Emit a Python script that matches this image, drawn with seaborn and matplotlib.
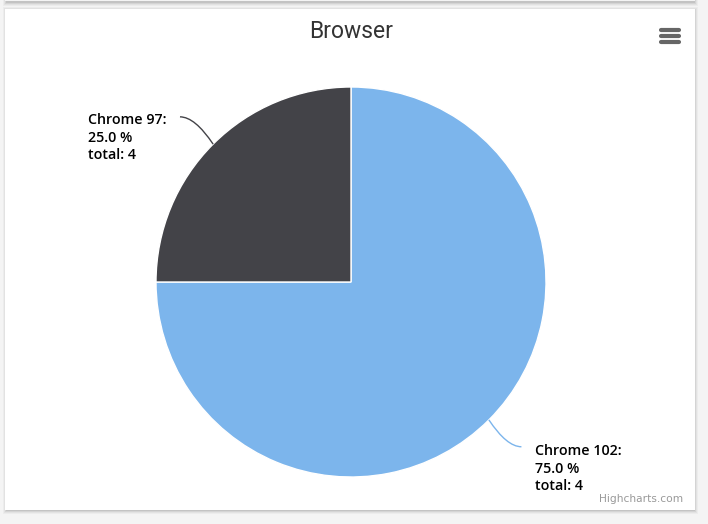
import matplotlib
matplotlib.use("Agg")
import matplotlib.pyplot as plt
import seaborn as sns
import numpy as np
from matplotlib.patches import Rectangle, PathPatch
from matplotlib.path import Path
from matplotlib.lines import Line2D

# ---- data ----
title = "Browser"
categories = ["Chrome 102", "Chrome 97"]
percents = [75.0, 25.0]
totals = [4, 4]
colors = ["#7cb5ec", "#434348"]

sns.set_theme(style="white")
plt.rcParams['font.family'] = ['DejaVu Sans']

W, H = 708, 524
fig = plt.figure(figsize=(W / 100, H / 100), dpi=100)
fig.patch.set_facecolor("#f4f4f4")

def px(x, y):
    return x / W, 1 - y / H

# card shadows and card
for off, a in [(4, 0.03), (3, 0.04), (2, 0.06), (1, 0.08)]:
    fig.patches.append(Rectangle(px(5 - off + 2, 510 + off), (690 + 2 * off - 3) / W, (501 + 2 * off - 2) / H,
                                 transform=fig.transFigure, facecolor="black", alpha=a, edgecolor="none", zorder=0))
    fig.patches.append(Rectangle(px(5 - off + 2, 2 + off), (690 + 2 * off - 3) / W, (20) / H,
                                 transform=fig.transFigure, facecolor="black", alpha=a, edgecolor="none", zorder=0))
fig.patches.append(Rectangle(px(5, 510), 690 / W, 501 / H, transform=fig.transFigure,
                             facecolor="white", edgecolor="none", zorder=1))
fig.patches.append(Rectangle(px(5, 1), 690 / W, 30 / H, transform=fig.transFigure,
                             facecolor="#f4f4f4", edgecolor="none", zorder=1))

# pie axes
cx, cy, r = 351, 282, 195
ax = fig.add_axes([(cx - r) / W, (H - cy - r) / H, 2 * r / W, 2 * r / H])
ax.set_zorder(2)
wedges, _ = ax.pie(percents, colors=colors, startangle=90, counterclock=False, radius=1.0,
                   wedgeprops=dict(edgecolor="white", linewidth=1))
ax.set_xlim(-1, 1)
ax.set_ylim(-1, 1)
ax.set_aspect("equal")
ax.axis("off")
ax.patch.set_alpha(0)

# labels with connectors
label_pos = {"Chrome 102": (0.944, -0.832, 0.874, -0.845, "left"),
             "Chrome 97": (-1.349, 0.865, -0.877, 0.847, "left")}
for w, cat, p, t in zip(wedges, categories, percents, totals):
    mid = np.deg2rad((w.theta1 + w.theta2) / 2)
    sx, sy = np.cos(mid), np.sin(mid)
    lx, ly, ex, ey, ha = label_pos[cat]
    ctrl = (sx + (ex - sx) * 0.55, ey)
    path = Path([(sx, sy), ctrl, (ex, ey)], [Path.MOVETO, Path.CURVE3, Path.CURVE3])
    ax.add_patch(PathPatch(path, facecolor="none", edgecolor=w.get_facecolor(), lw=1, clip_on=False))
    ax.text(lx, ly, f"{cat}:\n{p:.1f} %\ntotal: {t}", ha=ha, va="top", fontsize=10.3,
            fontweight=600, color="#000000", linespacing=1.3, clip_on=False,
            family=["Open Sans", "DejaVu Sans"])

# title
fig.text(351 / W, 1 - 31 / H, title, ha="center", va="center", fontsize=16.5,
         color="#333333", family=["Roboto", "DejaVu Sans"], zorder=3)

# hamburger menu
for yy in [29.5, 35.5, 41.5]:
    fig.add_artist(Line2D([661 / W, 679 / W], [1 - yy / H] * 2, color="#666666", lw=3.0,
                          solid_capstyle="round", transform=fig.transFigure, zorder=3))

# credit
fig.text(683 / W, 1 - 499 / H, "Highcharts.com", ha="right", va="center", fontsize=7.7,
         color="#999999", zorder=3)

fig.savefig("out.png", dpi=100, facecolor=fig.get_facecolor())
